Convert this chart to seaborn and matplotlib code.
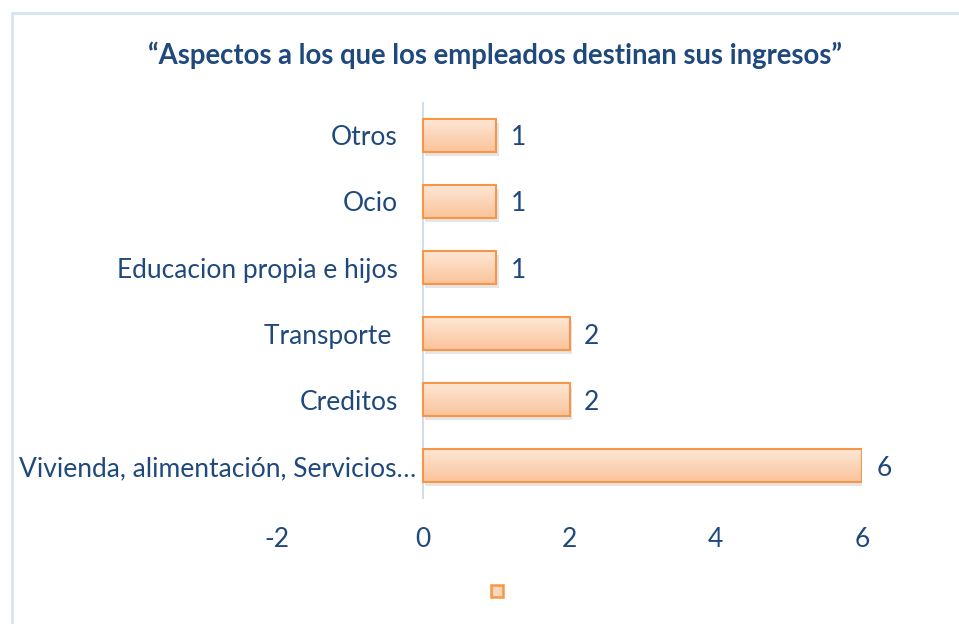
import numpy as np
import pandas as pd
import matplotlib
matplotlib.use("Agg")
import matplotlib.pyplot as plt
import seaborn as sns
from matplotlib.patches import Patch, Rectangle
from matplotlib.colors import LinearSegmentedColormap

categories = ["Otros", "Ocio", "Educacion propia e hijos", "Transporte ",
              "Creditos", "Vivienda, alimentación, Servicios…"]
values = [1, 1, 1, 2, 2, 6]
x_ticks = [-2, 0, 2, 4, 6]
title = "“Aspectos a los que los empleados destinan sus ingresos”"

TEXT = "#1F497D"
EDGE = "#F79646"
FS = 19

sns.set_theme(style="white")
plt.rcParams["font.family"] = ["Lato", "DejaVu Sans"]

fig = plt.figure(figsize=(9.59, 6.24), dpi=100)
ax = fig.add_axes([277/959, 1-499/624, (862-277)/959, (499-102)/624])

df = pd.DataFrame({"cat": categories, "val": values})
sns.barplot(data=df, y="cat", x="val", orient="h", ax=ax, width=0.5,
            color="#FBCBA5", edgecolor=EDGE, linewidth=1.5, zorder=3)

cmap = LinearSegmentedColormap.from_list("g", ["#FDE8D8", "#FBC39A"])
grad = np.linspace(0, 1, 64).reshape(-1, 1)
for p in list(ax.patches):
    x0, y0 = p.get_x(), p.get_y()
    w, h = p.get_width(), p.get_height()
    sh = Rectangle((x0 + 0.03, y0 + 0.06), w, h, facecolor="#000000",
                   alpha=0.10, edgecolor="none", zorder=2)
    ax.add_patch(sh)
    im = ax.imshow(grad, extent=(x0, x0 + w, y0 + h, y0), aspect="auto",
                   cmap=cmap, zorder=3.5)
    im.set_clip_path(p)
    p.set_facecolor("none")
    p.set_zorder(4)

ax.set_xlim(-2, 6)
ax.set_ylim(len(categories) - 0.5, -0.5)
ax.set_xticks(x_ticks)
ax.set_xticklabels([str(t) for t in x_ticks])
ax.tick_params(axis="x", length=0, pad=20, labelsize=FS, labelcolor=TEXT)
ax.set_yticks([])
ax.set_xlabel("")
ax.set_ylabel("")
for s in ax.spines.values():
    s.set_visible(False)
ax.axvline(0, color="#C9D7E8", lw=1.2, zorder=1)

for i, (c, v) in enumerate(zip(categories, values)):
    xpos = -0.35 if i < len(categories) - 1 else -0.09
    ax.text(xpos, i + 0.04, c, ha="right", va="center", fontsize=FS,
            color=TEXT, clip_on=False)
    ax.text(v + 0.2, i + 0.04, str(v), ha="left", va="center", fontsize=FS,
            color=TEXT, clip_on=False)

fig.text(495/959, 1-55/624, title, ha="center", va="center", fontsize=19.8,
         fontweight="bold", color=TEXT)

fig.legend(handles=[Patch(facecolor="#FCD6B8", edgecolor=EDGE, linewidth=1.8)],
           labels=[""], loc="center", bbox_to_anchor=(497/959, 1-592/624),
           frameon=False, handlelength=0.85, handleheight=0.85,
           handletextpad=0, borderpad=0)

fig.patches.append(Rectangle((11.5/959, -0.1), 2, 1 - 13.5/624 + 0.1,
                             transform=fig.transFigure, fill=False,
                             edgecolor="#D6E3F0", linewidth=2))

fig.savefig("out.png", dpi=100)
